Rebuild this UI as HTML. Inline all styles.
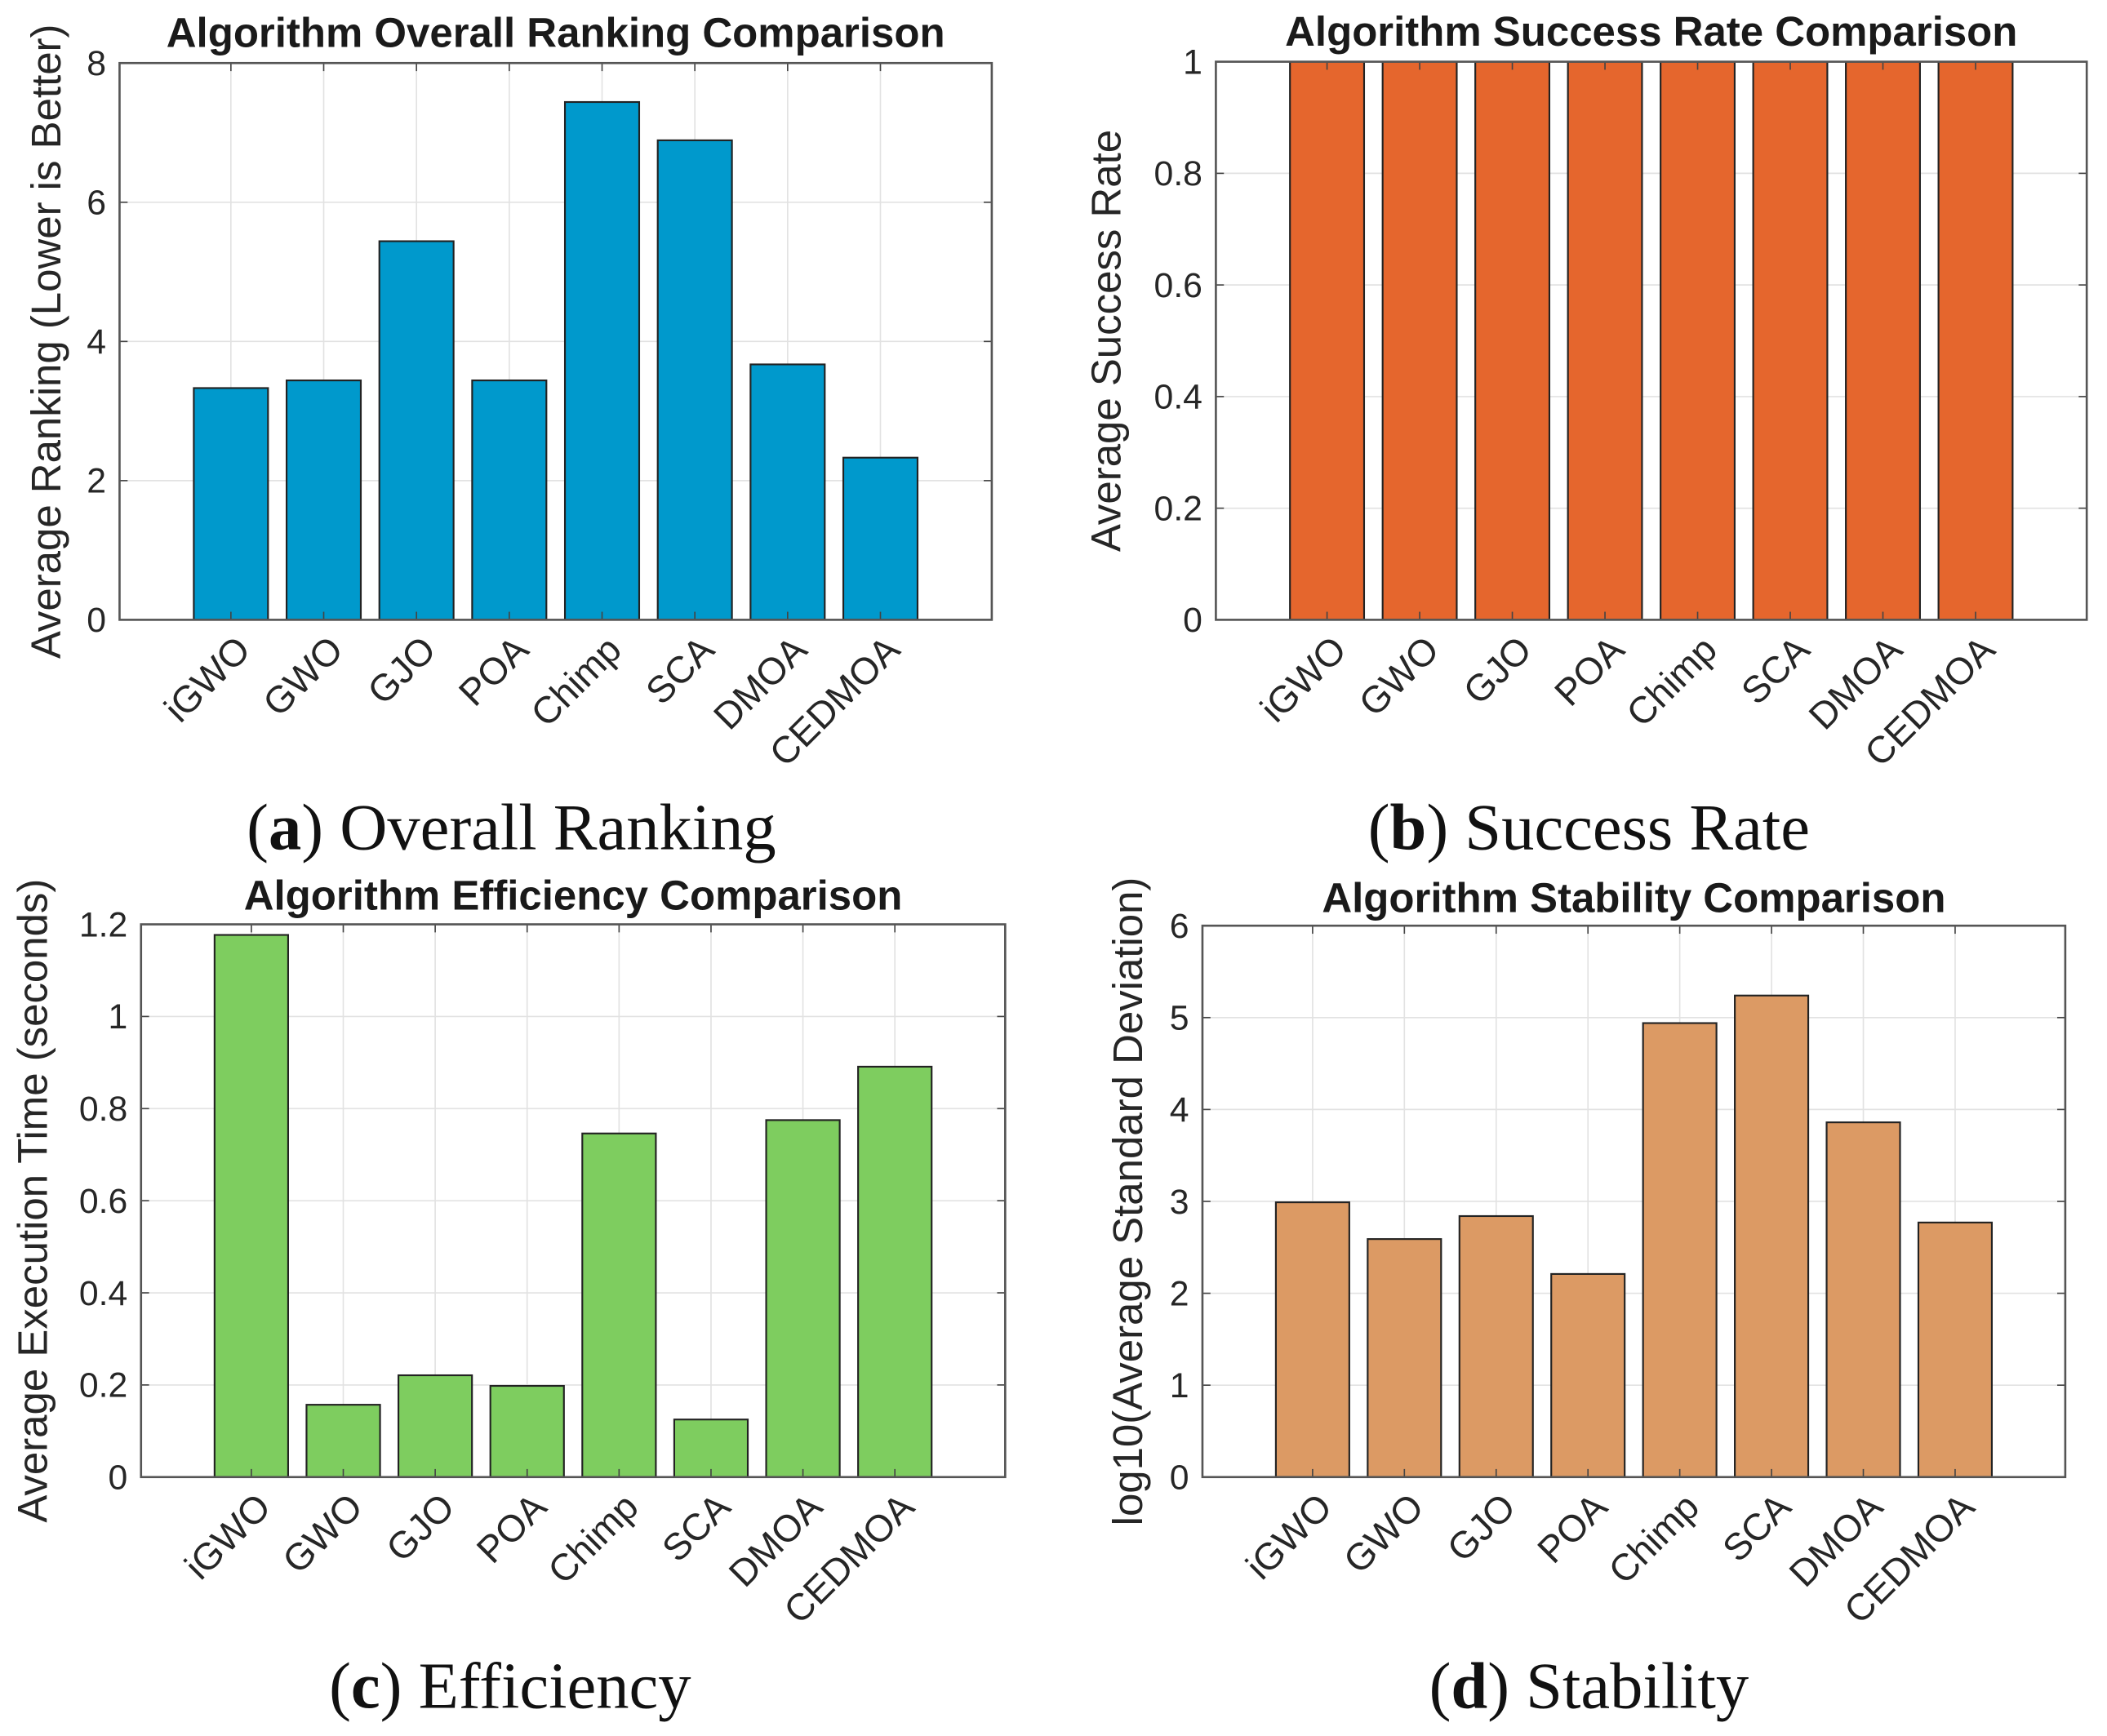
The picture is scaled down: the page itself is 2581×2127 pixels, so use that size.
<!DOCTYPE html>
<html><head><meta charset="utf-8"><style>
html,body{margin:0;padding:0;background:#fff;}
svg{display:block;}
</style></head><body>
<svg id="fig" width="2581" height="2127" viewBox="0 0 1568 1294" xmlns="http://www.w3.org/2000/svg" font-family="Liberation Sans, Arial, sans-serif"></svg>
<script>
const categories = ["iGWO","GWO","GJO","POA","Chimp","SCA","DMOA","CEDMOA"];
const rankingValues = [3.33,3.44,5.44,3.44,7.44,6.89,3.67,2.33];
const successValues = [1,1,1,1,1,1,1,1];
const timeValues = [1.177,0.157,0.221,0.198,0.746,0.125,0.775,0.891];
const stabilityValues = [2.99,2.59,2.84,2.21,4.94,5.24,3.86,2.77];
const rankingTicks = ["0","2","4","6","8"];
const successTicks = ["0","0.2","0.4","0.6","0.8","1"];
const timeTicks = ["0","0.2","0.4","0.6","0.8","1","1.2"];
const stabilityTicks = ["0","1","2","3","4","5","6"];

const NS = "http://www.w3.org/2000/svg";
const fig = document.getElementById("fig");
function mk(tag, attrs, parent){
  const e = document.createElementNS(NS, tag);
  for (const k in attrs) e.setAttribute(k, attrs[k]);
  (parent||fig).appendChild(e);
  return e;
}

function panel(key, box, values, ticks, ymax, color, title, ylabel, ylabelX, titleY, capLetter, capText, capX, capY){
  const g = mk("g", {});
  
  
  const L = box[0], R = box[1], T = box[2], B = box[3];
  const xs = v => L + (v + 0.2) / 9.4 * (R - L);
  const ys = v => B - v / ymax * (B - T);
  mk("rect", {x:L, y:T, width:R-L, height:B-T, fill:"#fff"}, g);
  ticks.forEach((t) => {
    const y = ys(parseFloat(t));
    mk("line", {x1:L, x2:R, y1:y, y2:y, stroke:"#e2e2e2", "stroke-width":1}, g);
    mk("line", {x1:L, x2:L+6, y1:y, y2:y, stroke:"#444", "stroke-width":1}, g);
    mk("line", {x1:R, x2:R-6, y1:y, y2:y, stroke:"#444", "stroke-width":1}, g);
    const tl = mk("text", {x:L-10, y:y+9, "text-anchor":"end", "font-size":26, fill:"#262626"}, g);
    tl.textContent = t;
    
    
  });
  categories.forEach((c, i) => {
    const x = xs(i + 1);
    mk("line", {x1:x, x2:x, y1:T, y2:B, stroke:"#e2e2e2", "stroke-width":1}, g);
  });
  values.forEach((v, i) => {
    const x = xs(i + 1), w = 0.8 / 9.4 * (R - L);
    const r = mk("rect", {x:x - w/2, y:ys(v), width:w, height:B - ys(v), fill:color, stroke:"#222", "stroke-width":1.3}, g);
    
    
  });
  categories.forEach((c, i) => {
    const x = xs(i + 1);
    mk("line", {x1:x, x2:x, y1:T, y2:T+6, stroke:"#444", "stroke-width":1}, g);
    mk("line", {x1:x, x2:x, y1:B, y2:B-6, stroke:"#444", "stroke-width":1}, g);
    const tx = x + 16, ty = B + 24;
    const t = mk("text", {x:tx, y:ty, "text-anchor":"end", "font-size":28, fill:"#262626", transform:"rotate(-45 "+tx+" "+ty+")"}, g);
    t.textContent = c;
    
    
  });
  mk("rect", {x:L, y:T, width:R-L, height:B-T, fill:"none", stroke:"#555", "stroke-width":1.6}, g);
  const tt = mk("text", {x:(L+R)/2, y:titleY, "text-anchor":"middle", "font-size":31, "font-weight":"bold", fill:"#1a1a1a"}, g);
  tt.textContent = title;
  
  
  const cy = (T+B)/2;
  const yl = mk("text", {x:ylabelX, y:cy, "text-anchor":"middle", "font-size":31, fill:"#262626", transform:"rotate(-90 "+ylabelX+" "+cy+")"}, g);
  yl.textContent = ylabel;
  
  
  const cap = mk("text", {x:capX, y:capY, "text-anchor":"middle", "font-size":49, fill:"#111", "font-family":"Liberation Serif, serif"}, g);
  
  
  const t1 = mk("tspan", {}, cap); t1.textContent = "(";
  const t2 = mk("tspan", {"font-weight":"bold"}, cap); t2.textContent = capLetter;
  const t3 = mk("tspan", {}, cap); t3.textContent = ") " + capText;
}

panel("ranking", [88,738,47,462], rankingValues, rankingTicks, 8, "#0099cc", "Algorithm Overall Ranking Comparison", "Average Ranking (Lower is Better)", 44, 35, "a", "Overall Ranking", 380, 633);
panel("success", [905,1554,46,462], successValues, successTicks, 1, "#e5662d", "Algorithm Success Rate Comparison", "Average Success Rate", 834, 34, "b", "Success Rate", 1183, 633);
panel("efficiency", [104,748,689,1101], timeValues, timeTicks, 1.2, "#7ecd5f", "Algorithm Efficiency Comparison", "Average Execution Time (seconds)", 34, 678, "c", "Efficiency", 379, 1273);
panel("stability", [895,1538,690,1101], stabilityValues, stabilityTicks, 6, "#dc9a64", "Algorithm Stability Comparison", "log10(Average Standard Deviation)", 850, 680, "d", "Stability", 1183, 1273);
</script>
</body></html>
